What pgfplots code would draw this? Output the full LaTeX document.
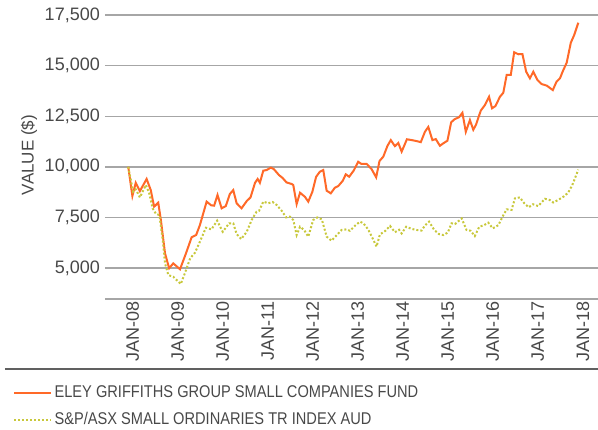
\documentclass[border=0pt]{standalone}
\usepackage{fontspec}
\setmainfont{Liberation Sans}
\newfontfamily\legfont{Liberation Sans}[FakeStretch=0.86]
\usepackage{pgfplots}
\pgfplotsset{compat=1.18}
\definecolor{fundorange}{RGB}{255,105,40}
\definecolor{indexolive}{RGB}{200,200,60}
\definecolor{gridgray}{RGB}{166,166,166}
\definecolor{txtgray}{RGB}{72,72,72}
\definecolor{rulegray}{RGB}{96,96,96}

\begin{document}
\begin{tikzpicture}
\useasboundingbox (-105bp,-131bp) rectangle (493bp,299bp);
\begin{axis}[
  scale only axis, width=493bp, height=284bp,
  xmin=-6.2, xmax=125.25, ymin=3470, ymax=17500,
  separate axis lines, axis x line*=bottom, axis y line*=left,
  x axis line style={-, line width=2.5bp, color=gridgray},
  y axis line style={draw=none},
  ymajorgrids, grid style={line width=1.4bp, color=gridgray},
  major tick length=0pt,
  scaled y ticks=false,
  ytick={5000,7500,10000,12500,15000,17500},
  xtick={0,12,24,36,48,60,72,84,96,108,120},
  xticklabels={JAN-08,JAN-09,JAN-10,JAN-11,JAN-12,JAN-13,JAN-14,JAN-15,JAN-16,JAN-17,JAN-18},
  /pgf/number format/assume math mode=true,
  /pgf/number format/1000 sep={,},
  tick label style={font=\fontsize{18bp}{20bp}\selectfont, text=txtgray, inner sep=0pt},
  yticklabel style={anchor=east, xshift=-5bp},
  xticklabel style={xshift=4.5bp, yshift=-2.5bp, rotate=90, anchor=east},
  ylabel={VALUE (\$)},
  every axis y label/.style={at={(axis description cs:-0.154,0.507)}, rotate=90, anchor=center,
    font=\fontsize{17bp}{20bp}\selectfont, text=txtgray},
  legend cell align=left,
  legend image code/.code={\draw[#1] (0bp,0bp) -- (36.6bp,0bp);},
  legend style={at={(axis description cs:-0.187,-0.302)}, anchor=north west,
    draw=none, fill=none, inner sep=0pt, row sep=12bp,
    font=\legfont\fontsize{17bp}{20bp}\selectfont, text=txtgray,
    nodes={inner sep=0pt, text height=12.5bp, text depth=3bp},
    /tikz/every odd column/.append style={column sep=3bp}},
]
\addplot[color=fundorange, line width=2bp] coordinates {
(0,10000) (1.1,8560) (2.0,9210) (3.1,8800) (4.9,9400) (6.0,8850) (6.9,8030) (8.0,8230)
(8.7,7370) (9.8,5730) (10.9,4990) (12.0,5230) (13.8,4940) (15.4,5730) (16.9,6520) (18.1,6630)
(19.1,7120) (20.9,8280) (22.1,8100) (22.9,8080) (23.8,8610) (24.9,7950) (26.0,8060) (27.1,8660)
(28.0,8850) (28.9,8200) (30.2,7950) (31.6,8310) (32.6,8490) (33.8,9210) (34.5,9400) (35.1,9210)
(36.0,9810) (36.9,9840) (38.0,9960) (38.8,9890) (40.2,9590) (41.1,9460) (42.2,9230) (43.6,9150)
(44.0,9100) (44.9,8160) (45.8,8720) (47.1,8520) (48.0,8280) (49.1,8770) (50.1,9510) (51.1,9760)
(52.0,9840) (52.9,8820) (54.0,8690) (55.1,8970) (56.0,9050) (57.2,9310) (58.0,9630) (58.9,9510)
(60.1,9810) (61.3,10250) (62.2,10140) (63.6,10140) (64.9,9880) (66.1,9480) (67.0,10290) (68.0,10500)
(69.1,11030) (70.0,11320) (71.1,11020) (72.0,11180) (72.9,10750) (74.3,11360) (75.6,11320) (76.9,11270)
(78.0,11220) (79.1,11730) (80.0,11970) (81.1,11320) (82.0,11370) (83.1,11040) (84.0,11160) (85.1,11290)
(86.1,12200) (87.0,12350) (88.2,12450) (89.1,12670) (90.0,11730) (91.1,12310) (92.0,11830) (92.7,12070)
(94.0,12780) (95.1,13050) (96.2,13460) (97.0,12890) (97.9,13000) (99.1,13460) (100.0,13660) (100.9,14540)
(102.0,14540) (102.9,15660) (104.0,15560) (105.1,15570) (106.1,14700) (107.1,14370) (108.0,14700) (109.1,14290)
(110.2,14090) (111.6,14010) (113.2,13790) (114.2,14210) (115.1,14370) (116.0,14780) (116.9,15140) (118.0,16130)
(118.9,16510) (120.0,17120)
};
\addlegendentry{ELEY GRIFFITHS GROUP SMALL COMPANIES FUND}
\addplot[color=indexolive, line width=2bp, dash pattern=on 2bp off 2bp] coordinates {
(0,10000) (1.3,8770) (2.0,8890) (3.1,8490) (4.7,9100) (5.6,8690) (6.5,7950) (7.4,7670)
(8.3,7620) (9.2,6380) (9.8,5230) (10.7,4650) (12.0,4570) (14.0,4210) (15.1,4740) (16.5,5480)
(17.8,5760) (19.1,6300) (20.7,6990) (22.2,6910) (23.7,7340) (25.2,6790) (26.9,7210) (28.0,7210)
(28.9,6680) (30.1,6430) (31.6,6790) (32.9,7370) (34.2,7780) (34.9,7830) (36.0,8280) (37.3,8200)
(38.5,8260) (39.6,8110) (40.9,7830) (42.1,7500) (43.1,7540) (44.0,7370) (44.9,6630) (45.8,7040)
(46.9,6880) (48.0,6550) (49.3,7370) (50.4,7500) (51.6,7410) (52.9,6550) (54.2,6350) (55.6,6630)
(56.9,6880) (58.2,6910) (59.1,6840) (60.5,7100) (61.8,7290) (62.7,7210) (64.0,6900) (65.2,6450)
(66.2,6060) (67.1,6660) (68.5,6830) (69.8,7080) (71.1,6770) (72.2,6890) (72.9,6710) (74.1,7040)
(75.6,6930) (76.9,6880) (78.2,6850) (79.1,7100) (80.2,7290) (81.6,6880) (82.8,6680) (84.0,6630)
(85.2,6750) (86.2,7210) (87.1,7170) (88.9,7450) (90.2,6880) (91.3,6840) (92.4,6580) (93.6,7040)
(94.9,7120) (96.0,7240) (97.2,6960) (98.7,7120) (99.8,7540) (100.9,7900) (102.2,7870) (103.1,8440)
(104.4,8490) (105.6,8200) (106.8,8000) (107.9,8150) (109.3,8060) (111.1,8420) (112.4,8360) (113.3,8240)
(114.6,8360) (116.0,8520) (117.3,8720) (118.4,9100) (120.0,9860)
};
\addlegendentry{S\&P/ASX SMALL ORDINARIES TR INDEX AUD}
\end{axis}
\draw[rulegray, line width=1.4bp] (-100bp,-70bp) -- (493bp,-70bp);
\end{tikzpicture}
\end{document}
